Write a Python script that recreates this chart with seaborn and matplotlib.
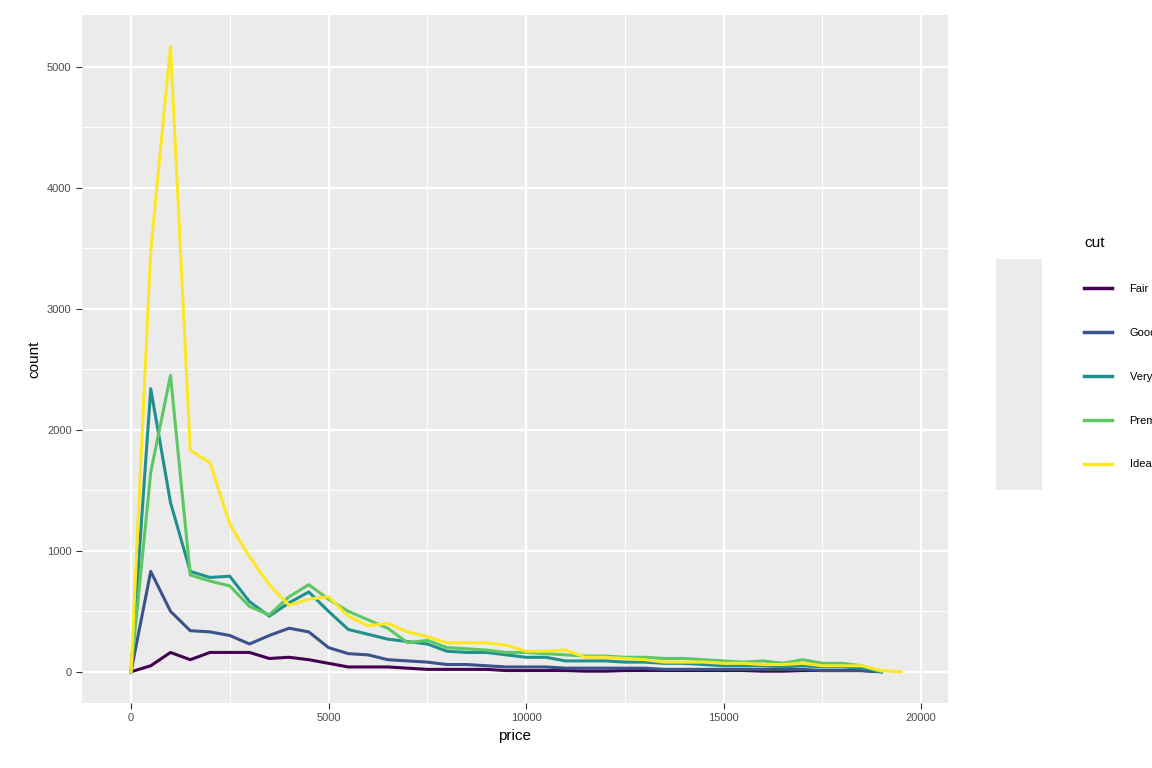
import numpy as np
import pandas as pd
import seaborn as sns
import matplotlib.pyplot as plt
from matplotlib.patches import Rectangle

plt.rcParams["font.family"] = "Liberation Sans"

prices = list(range(0, 19501, 500))

fair = [0, 50, 160, 100, 160, 160, 160, 110, 120, 100, 70, 40, 40, 40, 30, 20, 20, 20, 20,
        10, 10, 10, 10, 5, 5, 10, 10, 10, 10, 10, 10, 10, 5, 5, 10, 10, 10, 10, 0, 0]
good = [0, 830, 500, 340, 330, 300, 230, 300, 360, 330, 200, 150, 140, 100, 90, 80, 60, 60, 50,
        40, 40, 40, 30, 30, 30, 30, 30, 20, 20, 20, 20, 20, 20, 20, 20, 10, 10, 10, 0, 0]
very_good = [0, 2340, 1400, 830, 780, 790, 580, 460, 570, 660, 500, 350, 310, 270, 250, 230, 170,
             160, 160, 140, 120, 120, 90, 90, 90, 80, 80, 70, 70, 60, 50, 50, 50, 40, 50, 40, 40,
             30, 0, 0]
premium = [0, 1650, 2450, 800, 750, 710, 540, 470, 620, 720, 600, 500, 430, 360, 240, 260, 200,
           190, 180, 160, 160, 150, 140, 130, 130, 120, 120, 110, 110, 100, 90, 80, 90, 70, 100,
           70, 70, 50, 0, 0]
ideal = [0, 3480, 5170, 1830, 1730, 1220, 950, 720, 550, 600, 620, 460, 380, 400, 330, 290, 240,
         240, 240, 220, 170, 170, 180, 120, 120, 110, 100, 80, 80, 80, 70, 70, 60, 60, 70, 50, 50,
         50, 10, 0]

cuts = ["Fair", "Good", "Very Good", "Premium", "Ideal"]
series = [fair, good, very_good, premium, ideal]
colors = ["#440154", "#3B528B", "#21908C", "#5DC863", "#FDE725"]

rows = []
for cut, vals in zip(cuts, series):
    n = len(vals) if cut == "Ideal" else len(vals) - 1
    for p, v in zip(prices[:n], vals[:n]):
        rows.append({"price": p, "count": v, "cut": cut})
df = pd.DataFrame(rows)

fig = plt.figure(figsize=(11.52, 7.68), dpi=100)
ax = fig.add_axes([82 / 1152, 65 / 768, 866 / 1152, 688 / 768])
ax.set_facecolor("#EBEBEB")
sns.lineplot(data=df, x="price", y="count", hue="cut", hue_order=cuts,
             palette=colors, linewidth=2.2, ax=ax)

ax.set_xlim(-1240, 20680)
ax.set_ylim(-258, 5430)
ax.set_xticks([0, 5000, 10000, 15000, 20000])
ax.set_yticks([0, 1000, 2000, 3000, 4000, 5000])
ax.set_xticks([2500, 7500, 12500, 17500], minor=True)
ax.set_yticks([500, 1500, 2500, 3500, 4500], minor=True)
ax.grid(which="major", color="white", linewidth=1.6)
ax.grid(which="minor", color="white", linewidth=0.7)
ax.set_axisbelow(True)
for s in ax.spines.values():
    s.set_visible(False)
ax.tick_params(which="major", length=4, color="#333333", labelsize=8, labelcolor="#4D4D4D")
ax.tick_params(which="minor", length=0)
ax.set_xlabel("price", fontsize=11)
ax.set_ylabel("count", fontsize=11)

# grey key background like ggplot
fig.patches.append(Rectangle((996 / 1152, 1 - 490 / 768), 46 / 1152, 231 / 768,
                             transform=fig.transFigure, facecolor="#EBEBEB",
                             edgecolor="none", zorder=0))

leg = ax.legend(title="cut", loc="upper left", bbox_to_anchor=(992 / 866, (703 - 226) / 688),
                frameon=False, fontsize=8, title_fontsize=11, handlelength=2.5,
                labelspacing=3.05, handletextpad=1.6, alignment="left")
for line in leg.get_lines():
    line.set_linewidth(2.5)

fig.savefig("out.png", dpi=100)
